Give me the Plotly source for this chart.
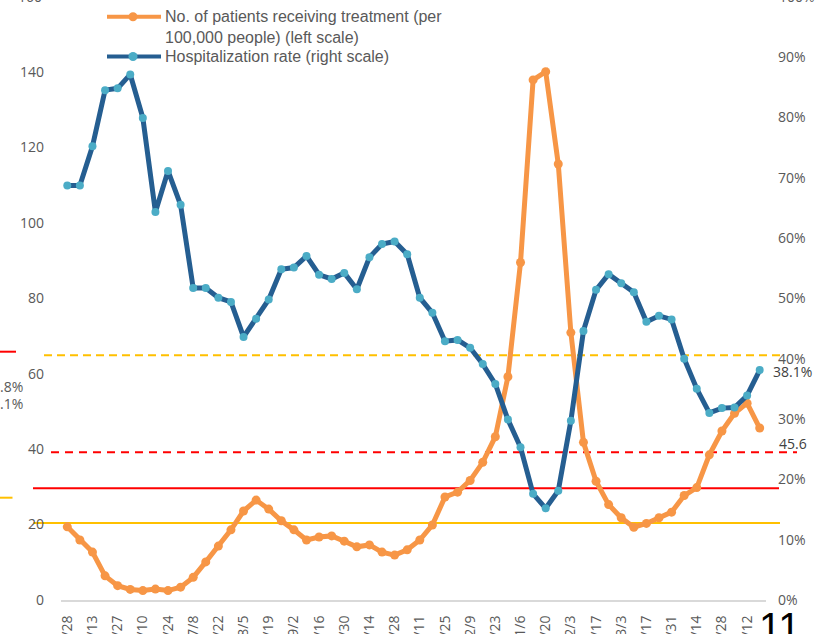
import plotly.graph_objects as go

# ---------------- data ----------------
date_labels = ["4/28", "5/13", "5/27", "6/10", "6/24", "7/8", "7/22", "8/5", "8/19", "9/2",
               "9/16", "9/30", "10/14", "10/28", "11/11", "11/25", "12/9", "12/23", "1/6", "1/20",
               "2/3", "2/17", "3/3", "3/17", "3/31", "4/14", "4/28", "5/12"]

patients = [19.4, 15.9, 12.7, 6.4, 3.8, 2.8, 2.5, 2.9, 2.5, 3.4,
            6.0, 10.1, 14.3, 18.6, 23.6, 26.5, 24.1, 21.0, 18.6, 15.9,
            16.7, 17.0, 15.6, 14.1, 14.6, 12.7, 11.9, 13.3, 15.9, 19.9,
            27.3, 28.6, 31.7, 36.5, 43.3, 59.2, 89.5, 137.9, 140.1, 115.6,
            70.9, 41.8, 31.5, 25.3, 21.8, 19.3, 20.3, 21.8, 23.3, 27.7,
            29.8, 38.5, 44.8, 49.5, 52.2, 45.6]

hosp_rate = [68.7, 68.7, 75.2, 84.5, 84.8, 87.1, 79.9, 64.3, 71.1, 65.5,
             51.7, 51.7, 50.1, 49.4, 43.6, 46.6, 49.8, 54.8, 55.1, 57.0,
             53.9, 53.2, 54.2, 51.5, 56.8, 59.0, 59.4, 57.3, 50.1, 47.6,
             42.9, 43.1, 41.8, 39.1, 35.8, 29.9, 25.3, 17.6, 15.2, 18.1,
             29.7, 44.6, 51.4, 54.0, 52.5, 51.0, 46.1, 47.1, 46.5, 40.0,
             35.0, 31.0, 31.8, 31.9, 33.9, 38.1]

left_ticks = [0, 20, 40, 60, 80, 100, 120, 140]
right_ticks = [0, 10, 20, 30, 40, 50, 60, 70, 80, 90]

# reference levels on left scale
ref_yellow_dash = 64.9
ref_red_dash = 39.2
ref_red_solid = 29.6
ref_yellow_solid = 20.4

legend_names = ["No. of patients receiving treatment (per", "100,000 people) (left scale)",
                "Hospitalization rate (right scale)"]

# ---------------- styling / layout ----------------
W, H = 823, 634
ML, MR, MT, MB = 61, 57, 0, 34
PW = W - ML - MR
PH = H - MT - MB
LEFT_MAX = 160 * PH / 603.4
RIGHT_MAX = 1.0 * PH / 603.4

ORANGE = "#F79646"
BLUE = "#255E91"
LBLUE = "#4BACC6"
GRAY = "#595959"
YEL = "#FFC000"
RED = "#FF0000"
TICKFONT = dict(family="Open Sans", size=14, color=GRAY)


def px(x):
    return (x - ML) / PW


def py(y):
    return (MT + PH - y) / PH


n = len(patients)
xs = list(range(n))

fig = go.Figure()
fig.add_trace(go.Scatter(
    x=xs, y=patients, mode="lines+markers", name=legend_names[0],
    line=dict(color=ORANGE, width=5), marker=dict(color=ORANGE, size=9),
    yaxis="y", showlegend=False, cliponaxis=False))
fig.add_trace(go.Scatter(
    x=xs, y=[v / 100 for v in hosp_rate], mode="lines+markers", name=legend_names[2],
    line=dict(color=BLUE, width=5), marker=dict(color=LBLUE, size=8),
    yaxis="y2", showlegend=False, cliponaxis=False))

shapes = []


def hline(x0, x1, val, color, dash):
    shapes.append(dict(type="line", xref="paper", yref="paper",
                       x0=px(x0), x1=px(x1), y0=val / LEFT_MAX, y1=val / LEFT_MAX,
                       line=dict(color=color, width=2, dash=dash), layer="below"))


hline(44, 780, ref_yellow_dash, YEL, "8px,5px")
hline(51, 797, ref_red_dash, RED, "8px,6px")
hline(33, 779, ref_red_solid, RED, "solid")
hline(33, 780, ref_yellow_solid, YEL, "solid")

# stray partial shapes at left edge
shapes.append(dict(type="line", xref="paper", yref="paper", x0=px(-2), x1=px(16),
                   y0=py(351.7), y1=py(351.7), line=dict(color=RED, width=2)))
shapes.append(dict(type="line", xref="paper", yref="paper", x0=px(-2), x1=px(12.5),
                   y0=py(497.7), y1=py(497.7), line=dict(color=YEL, width=2)))

# custom legend symbols
for ly, lc, mc in [(16.7, ORANGE, ORANGE), (56.5, BLUE, LBLUE)]:
    shapes.append(dict(type="line", xref="paper", yref="paper", x0=px(107), x1=px(161),
                       y0=py(ly), y1=py(ly), line=dict(color=lc, width=4)))
    shapes.append(dict(type="circle", xref="paper", yref="paper",
                       x0=px(133 - 4.5), x1=px(133 + 4.5), y0=py(ly + 4.5), y1=py(ly - 4.5),
                       fillcolor=mc, line=dict(width=0)))

annotations = []
for txt, ly in zip(legend_names, [16.7, 37.3, 56.5]):
    annotations.append(dict(text=txt, xref="paper", yref="paper", x=px(163), y=py(ly),
                            xanchor="left", yanchor="middle", showarrow=False,
                            font=dict(family="Liberation Sans", size=16, color=GRAY)))

# top tick labels partially cut off
annotations.append(dict(text="160", xref="paper", yref="paper", x=px(44), y=py(-3.4),
                        xanchor="right", yanchor="middle", showarrow=False, font=TICKFONT))
annotations.append(dict(text="100%", xref="paper", yref="paper", x=px(777), y=py(-3.4),
                        xanchor="left", yanchor="middle", showarrow=False, font=TICKFONT))

# stray texts at the left edge
for txt, ly in [(".8%", 386), (".1%", 403)]:
    annotations.append(dict(text=txt, xref="paper", yref="paper", x=px(25), y=py(ly),
                            xanchor="right", yanchor="middle", showarrow=False, font=TICKFONT))

# data labels for the last points
annotations.append(dict(text=f"{hosp_rate[-1]:.1f}%", xref="x", yref="y2", x=xs[-1],
                        y=hosp_rate[-1] / 100, xanchor="left", yanchor="middle",
                        xshift=11, yshift=-1, showarrow=False,
                        font=dict(family="Open Sans", size=14, color="#404040")))
annotations.append(dict(text=f"{patients[-1]:.1f}", xref="x", yref="y", x=xs[-1],
                        y=patients[-1], xanchor="left", yanchor="middle",
                        xshift=17, yshift=-15, showarrow=False,
                        font=dict(family="Open Sans", size=14, color="#404040")))

# page number
annotations.append(dict(text="11", xref="paper", yref="paper", x=px(757), y=py(603),
                        xanchor="left", yanchor="top", showarrow=False,
                        font=dict(family="Liberation Sans", size=40, color="#000000")))

fig.update_layout(
    width=W, height=H,
    margin=dict(l=ML, r=MR, t=MT, b=MB, autoexpand=False),
    paper_bgcolor="white", plot_bgcolor="white",
    showlegend=False,
    xaxis=dict(range=[-0.5, n - 0.5], tickvals=list(range(0, n, 2)), ticktext=date_labels,
               tickangle=-90, showgrid=False, zeroline=False, showline=True,
               linecolor="#D9D9D9", linewidth=2, ticks="", tickfont=TICKFONT,
               ticklabelstandoff=8, automargin=False, fixedrange=True),
    yaxis=dict(range=[0, LEFT_MAX], tickvals=left_ticks, showgrid=False, zeroline=False,
               showline=False, ticks="", tickfont=TICKFONT, ticklabelstandoff=16,
               automargin=False),
    yaxis2=dict(range=[0, RIGHT_MAX], tickvals=[v / 100 for v in right_ticks],
                ticktext=[f"{v}%" for v in right_ticks], overlaying="y", side="right",
                showgrid=False, zeroline=False, showline=False, ticks="",
                tickfont=TICKFONT, ticklabelstandoff=11, automargin=False),
    shapes=shapes, annotations=annotations,
)

fig.write_html("out.html", config={"displayModeBar": False},
               post_script="document.body.style.margin='0';document.body.style.overflow='hidden';")
